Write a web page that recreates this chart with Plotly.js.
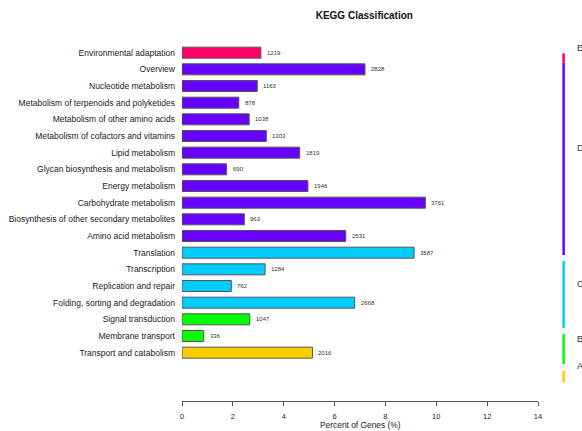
<!DOCTYPE html>
<html>
<head>
<meta charset="utf-8">
<script src="https://cdn.plot.ly/plotly-3.0.1.min.js"></script>
<style>
  html, body { margin: 0; padding: 0; background: #fff; }
  #chart { width: 582px; height: 431px; }
</style>
</head>
<body>
<div id="chart"></div>
<script>
// KEGG pathway categories, listed top to bottom
const categories = [
  'Environmental adaptation',
  'Overview',
  'Nucleotide metabolism',
  'Metabolism of terpenoids and polyketides',
  'Metabolism of other amino acids',
  'Metabolism of cofactors and vitamins',
  'Lipid metabolism',
  'Glycan biosynthesis and metabolism',
  'Energy metabolism',
  'Carbohydrate metabolism',
  'Biosynthesis of other secondary metabolites',
  'Amino acid metabolism',
  'Translation',
  'Transcription',
  'Replication and repair',
  'Folding, sorting and degradation',
  'Signal transduction',
  'Membrane transport',
  'Transport and catabolism'
];

// number of genes annotated to each pathway category
const geneCounts = [1219, 2828, 1163, 878, 1038, 1303, 1819, 690, 1946, 3761,
                    963, 2531, 3587, 1284, 762, 2668, 1047, 336, 2016];

// total annotated genes, used as the percentage base
const totalGenes = 39300;

// top-level KEGG class of each category
const categoryClass = ['E', 'D', 'D', 'D', 'D', 'D', 'D', 'D', 'D', 'D',
                       'D', 'D', 'C', 'C', 'C', 'C', 'B', 'B', 'A'];

const classLabels = ['E', 'D', 'C', 'B', 'A'];
const classColors = {
  E: '#FF0066',
  D: '#6600FF',
  C: '#00CCFF',
  B: '#00FF00',
  A: '#FFCC00'
};

const xTicks = [0, 2, 4, 6, 8, 10, 12, 14];

const percents = geneCounts.map(c => c / totalGenes * 100);

const trace = {
  type: 'bar',
  orientation: 'h',
  x: percents,
  y: categories,
  width: 0.66,
  marker: {
    color: categoryClass.map(k => classColors[k]),
    line: { color: '#555555', width: 1 }
  },
  hoverinfo: 'skip'
};

// count labels just right of each bar
const countLabels = categories.map((cat, i) => ({
  x: percents[i],
  y: cat,
  xref: 'x',
  yref: 'y',
  text: String(geneCounts[i]),
  showarrow: false,
  xanchor: 'left',
  yanchor: 'middle',
  xshift: 4,
  font: { family: 'Liberation Sans, Arial, sans-serif', size: 6, color: '#333333' }
}));

// class brackets on the right side (paper coordinates of each span)
const bracketSpans = {
  E: [0.9397, 0.9658],
  D: [0.4056, 0.9397],
  C: [0.2028, 0.3889],
  B: [0.1028, 0.1861],
  A: [0.0519, 0.0842]
};
const letterY = { E: 0.9797, D: 0.7019, C: 0.3242, B: 0.1722, A: 0.0972 };
const bracketX = 1.072;
const letterX = 1.103;

const shapes = classLabels.map(k => ({
  type: 'line',
  xref: 'paper', yref: 'paper',
  x0: bracketX, x1: bracketX,
  y0: bracketSpans[k][0], y1: bracketSpans[k][1],
  line: { color: classColors[k], width: 2.5 }
}));

const classLetters = classLabels.map(k => ({
  x: letterX, y: letterY[k],
  xref: 'paper', yref: 'paper',
  text: k,
  showarrow: false,
  xanchor: 'left', yanchor: 'middle',
  font: { family: 'Liberation Sans, Arial, sans-serif', size: 9, color: '#333333' }
}));

const axisTitle = {
  x: 0.5, y: -0.0667,
  xref: 'paper', yref: 'paper',
  text: 'Percent of Genes (%)',
  showarrow: false,
  xanchor: 'center', yanchor: 'middle',
  font: { family: 'Liberation Sans, Arial, sans-serif', size: 8.4, color: '#222222' }
};

const layout = {
  width: 582,
  height: 431,
  margin: { l: 182, r: 44, t: 41, b: 30, pad: 0 },
  paper_bgcolor: '#ffffff',
  plot_bgcolor: '#ffffff',
  showlegend: false,
  font: { family: 'Liberation Sans, Arial, sans-serif', color: '#222222' },
  title: {
    text: '<b>KEGG Classification</b>',
    x: 0.626, xref: 'container', xanchor: 'center',
    y: 0.965, yref: 'container', yanchor: 'middle',
    font: { family: 'Liberation Sans, Arial, sans-serif', size: 10, color: '#111111' }
  },
  xaxis: {
    range: [0, 14],
    tickvals: xTicks,
    ticktext: xTicks.map(String),
    showgrid: false,
    zeroline: false,
    showline: true,
    linecolor: '#555555',
    linewidth: 1,
    ticks: 'outside',
    ticklen: 4,
    tickcolor: '#555555',
    ticklabelstandoff: 4,
    tickfont: { size: 7.5, color: '#222222' },
    fixedrange: true
  },
  yaxis: {
    type: 'category',
    categoryorder: 'array',
    categoryarray: categories.slice().reverse(),
    range: [-2.9, 18.7],
    showgrid: false,
    zeroline: false,
    showline: false,
    ticks: '',
    ticklabelstandoff: 6,
    tickfont: { size: 8.5, color: '#222222' },
    fixedrange: true
  },
  shapes: shapes,
  annotations: countLabels.concat(classLetters, [axisTitle])
};

Plotly.newPlot('chart', [trace], layout, { displayModeBar: false, staticPlot: true });
</script>
</body>
</html>
